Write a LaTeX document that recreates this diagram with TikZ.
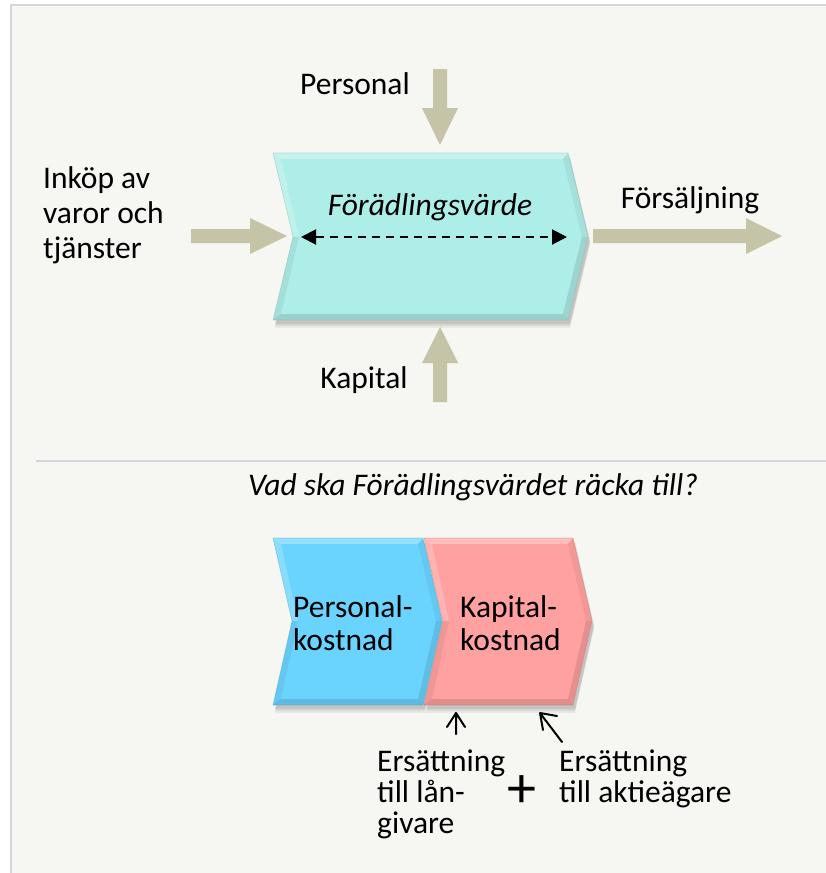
\documentclass[tikz,border=0pt]{standalone}
\usepackage{fontspec}
\setmainfont{Carlito}
\usetikzlibrary{arrows.meta}
\definecolor{pagebg}{RGB}{246,246,242}
\definecolor{framegray}{RGB}{214,214,218}
\definecolor{khaki}{RGB}{197,196,166}
\definecolor{chevcyan}{RGB}{174,238,232}
\definecolor{chevblue}{RGB}{106,212,255}
\definecolor{chevred}{RGB}{255,161,160}

% chevron: #1 L, #2 R, #3 T, #4 B, #5 M, #6 depth, #7 colour, #8 name
\newcommand\chevshape[8]{%
  \foreach \s/\o in {8/0.05,6/0.07,4/0.09}{
    \fill[black,opacity=\o] (#1+2,#3+\s) -- (#2+2,#3+\s) -- (#2+#6+2,#5+\s) -- (#2+2,#4+\s) -- (#1+2,#4+\s) -- (#1+#6+2,#5+\s) -- cycle;}
  \fill[#7] (#1,#3) coordinate (#8-1) -- (#2,#3) coordinate (#8-2) -- (#2+#6,#5) coordinate (#8-3) -- (#2,#4) coordinate (#8-4) -- (#1,#4) coordinate (#8-5) -- (#1+#6,#5) coordinate (#8-6) -- cycle;
  \path (#1+8,#3+6) coordinate (#8-i1) (#2-5,#3+6) coordinate (#8-i2) (#2+#6-6,#5) coordinate (#8-i3)
        (#2-5,#4-6) coordinate (#8-i4) (#1+8,#4-6) coordinate (#8-i5) (#1+#6+6,#5) coordinate (#8-i6);
  \fill[white,opacity=.3] (#8-1) -- (#8-2) -- (#8-i2) -- (#8-i1) -- cycle;
  \fill[black,opacity=.05] (#8-2) -- (#8-3) -- (#8-i3) -- (#8-i2) -- cycle;
  \fill[black,opacity=.1] (#8-3) -- (#8-4) -- (#8-i4) -- (#8-i3) -- cycle;
  \fill[black,opacity=.12] (#8-4) -- (#8-5) -- (#8-i5) -- (#8-i4) -- cycle;
  \fill[black,opacity=.06] (#8-5) -- (#8-6) -- (#8-i6) -- (#8-i5) -- cycle;
  \fill[white,opacity=.2] (#8-6) -- (#8-1) -- (#8-i1) -- (#8-i6) -- cycle;
  \draw[#7!75!black, line width=0.6pt, opacity=.4] (#8-1) -- (#8-2) -- (#8-3) -- (#8-4) -- (#8-5) -- (#8-6) -- cycle;
}

\tikzset{
  lbl/.style={font=\fontsize{31.5}{35}\selectfont, align=left, inner sep=0pt},
  itlbl/.style={font=\fontsize{31.5}{35}\selectfont\itshape, inner sep=0pt},
  blockarrow/.style={fill=khaki, draw=none},
  smallarrow/.style={line width=2pt, black, line cap=round, line join=round},
  spanarrow/.style={{Triangle[length=15pt,width=15pt]}-{Triangle[length=15pt,width=15pt]}, dash pattern=on 8pt off 6pt, line width=2pt, black}
}

\begin{document}
\begin{tikzpicture}[x=1pt,y=-1pt]
\useasboundingbox (0,0) rectangle (826,873);
\fill[white] (0,0) rectangle (826,873);
\fill[pagebg] (10,4) rectangle (826,873);
\draw[framegray, line width=2pt] (11,873) -- (11,5) -- (826,5);
\draw[framegray, line width=1.5pt] (36,461) -- (826,461);

% block arrows
\fill[blockarrow] (433,69) coordinate (pa0) -- (447,69) -- (447,108) -- (458,108) -- (440,145) coordinate (pa1) -- (422,108) -- (433,108) -- cycle;
\fill[blockarrow] (433,402) coordinate (ka0) -- (447,402) -- (447,363) -- (458,363) -- (440,327) coordinate (ka1) -- (422,363) -- (433,363) -- cycle;
\fill[blockarrow] (191,229) coordinate (ia0) -- (250,229) -- (250,218) -- (287,236) coordinate (ia1) -- (250,254) -- (250,243) -- (191,243) -- cycle;
\fill[blockarrow] (593,229) coordinate (fa0) -- (746,229) -- (746,218) -- (782,236) coordinate (fa1) -- (746,254) -- (746,243) -- (593,243) -- cycle;

% main chevron
\chevshape{273}{568}{153}{320}{236.5}{20}{chevcyan}{fv}
\node[itlbl] (fvtext) at (430,207) {Förädlingsvärde};
\coordinate (dl) at (301,237);
\coordinate (dr) at (567,237);
\draw[spanarrow] (dl) -- (dr);

% labels top part
\node[lbl] (personal) at (355,84) {Personal};
\node[lbl, anchor=west] (inkop) at (43,215) {Inköp av\\varor och\\tjänster};
\node[lbl] (forsaljning) at (690,200) {Försäljning};
\node[lbl] (kapital) at (364,380) {Kapital};

% question
\node[itlbl] (question) at (473,487) {Vad ska Förädlingsvärdet räcka till?};

% bottom chevrons
\chevshape{273}{423}{538}{705}{621}{19}{chevblue}{pk}
\chevshape{424}{573}{538}{705}{621}{19}{chevred}{kk}
\node[lbl, anchor=west, font=\fontsize{31.5}{33}\selectfont] (pktext) at (293,623) {Personal-\\kostnad};
\node[lbl, anchor=west, font=\fontsize{31.5}{33}\selectfont] (kktext) at (460,623) {Kapital-\\kostnad};

% compensation labels
\node[lbl, anchor=west, font=\fontsize{31.5}{31}\selectfont] (langivare) at (377,794) {Ersättning\\till lån-\\givare};
\node[lbl, anchor=west, font=\fontsize{31.5}{31}\selectfont] (aktieagare) at (559,779) {Ersättning\\till aktieägare};
\node[inner sep=0pt, font=\fontsize{58}{58}\selectfont] (plus) at (522,792) {+};

% small open arrows (shaft + two barbs)
\coordinate (s1a) at (456,734);
\coordinate (s1b) at (456,713);
\coordinate (s2a) at (562,742);
\coordinate (s2b) at (540,713);
\draw[smallarrow] (s1a) -- (s1b) -- ++(-9,14) (s1b) -- ++(9,14);
\draw[smallarrow] (s2a) -- (s2b) -- ++(3,17) (s2b) -- ++(17,3);
\end{tikzpicture}
\end{document}
